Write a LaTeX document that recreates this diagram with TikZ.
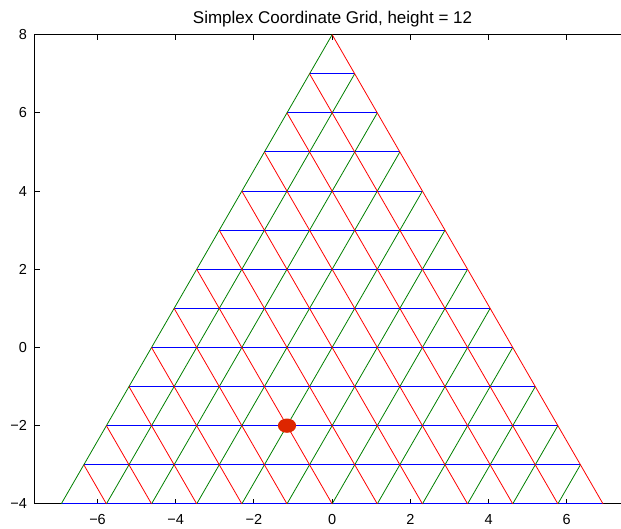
\documentclass[tikz,border=0pt]{standalone}
\usepackage{fontspec}
\setmainfont{Liberation Sans}
\definecolor{mgreen}{RGB}{0,128,0}
\definecolor{mred}{RGB}{255,0,0}
\definecolor{mblue}{RGB}{0,0,255}
\definecolor{dotred}{RGB}{221,38,0}
\begin{document}
\begin{tikzpicture}[x=39.1pt,y=39.1pt,
  gline/.style={draw=mgreen,line width=0.8pt},
  rline/.style={draw=mred,line width=0.8pt},
  bline/.style={draw=mblue,line width=1pt},
  axline/.style={draw=black,line width=0.9pt},
  ticklab/.style={font=\fontsize{14.5}{17}\selectfont,inner sep=0pt},
  titlelab/.style={font=\fontsize{17}{20}\selectfont,inner sep=0pt}]
\useasboundingbox (-8.495,-4.642) rectangle (7.388,8.887);
\def\s{1.154701}
\def\hx{6.928203}
% axes
\draw[axline] (7.388,8) -- (-7.605,8) -- (-7.605,-4) -- (7.388,-4);
\foreach \t in {-6,-4,...,6}{
  \draw[axline] (\t,-4) -- (\t,-3.872);
  \draw[axline] (\t,8) -- (\t,7.872);
}
\foreach \t in {-2,0,...,6}{
  \draw[axline] (-7.605,\t) -- (-7.477,\t);
}
% tick labels
\foreach \t/\l in {-6/−6,-4/−4,-2/−2,0/0,2/2,4/4,6/6}{
  \node[ticklab,anchor=base] (xl\t) at (\t,-4.54) {\l};
}
\foreach \t/\l in {-4/−4,-2/−2,0/0,2/2,4/4,6/6,8/8}{
  \node[ticklab,anchor=east] (yl\t) at (-7.80,\t) {\l};
}
\node[titlelab,anchor=base] (title) at (0.01,8.292) {Simplex Coordinate Grid, height = 12};
% grid
\foreach \j in {0,...,11}{
  \draw[bline] ({-\hx+\j*\s/2},{-4+\j}) -- ({\hx-\j*\s/2},{-4+\j});
}
\foreach \k in {0,...,11}{
  \draw[gline] ({-\hx+\k*\s},-4) -- ({\hx-(12-\k)*\s/2},{8-\k});
}
\foreach \k in {1,...,12}{
  \draw[rline] ({-\hx+\k*\s},-4) -- ({-\hx+\k*\s/2},{-4+\k});
}
% marker
\fill[dotred] (-1.154701,-2) ellipse [x radius=0.234, y radius=0.183];
\end{tikzpicture}
\end{document}
